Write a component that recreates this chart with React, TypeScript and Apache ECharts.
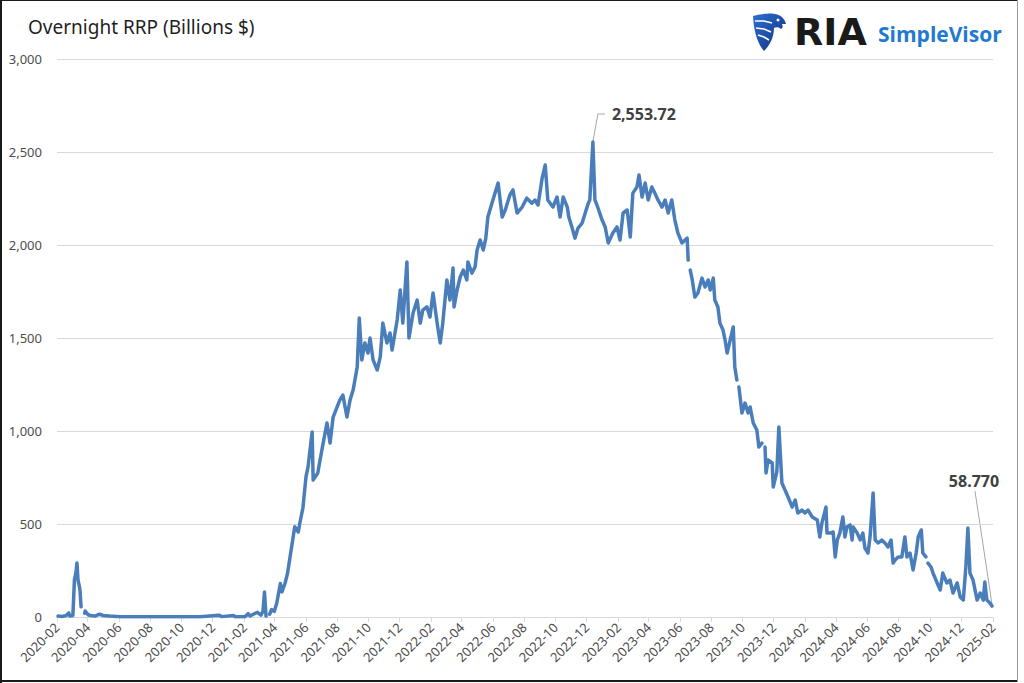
import React, { useEffect, useRef } from 'react';
import * as echarts from 'echarts';

const dates: string[] = [
  '2020-02-03','2020-02-11','2020-02-19','2020-02-24','2020-02-26','2020-03-03','2020-03-06','2020-03-09','2020-03-11','2020-03-13',
  '2020-03-16','2020-03-17','2020-03-19','2020-03-22','2020-03-26','2020-03-27','2020-04-02','2020-04-06','2020-04-15','2020-04-24',
  '2020-05-01','2020-05-14','2020-06-03','2020-07-12','2020-08-20','2020-09-28','2020-11-06','2020-12-13','2020-12-19','2021-01-11',
  '2021-01-14','2021-02-02','2021-02-08','2021-02-12','2021-02-22','2021-02-26','2021-03-05','2021-03-09','2021-03-12','2021-03-15',
  '2021-03-18','2021-03-22','2021-03-26','2021-03-31','2021-04-05','2021-04-12','2021-04-15','2021-04-21','2021-04-26','2021-05-03',
  '2021-05-07','2021-05-10','2021-05-17','2021-05-20','2021-05-26','2021-06-01','2021-06-05','2021-06-13','2021-06-15','2021-06-24',
  '2021-07-02','2021-07-12','2021-07-18','2021-07-24','2021-08-06','2021-08-12','2021-08-20','2021-08-26','2021-09-01','2021-09-09',
  '2021-09-13','2021-09-18','2021-09-24','2021-09-30','2021-10-04','2021-10-10','2021-10-18','2021-10-24','2021-10-29','2021-11-06',
  '2021-11-12','2021-11-16','2021-11-26','2021-12-02','2021-12-07','2021-12-15','2021-12-19','2021-12-27','2022-01-04','2022-01-10',
  '2022-01-15','2022-01-23','2022-01-29','2022-02-04','2022-02-12','2022-02-18','2022-02-23','2022-03-03','2022-03-09','2022-03-15',
  '2022-03-17','2022-03-23','2022-03-29','2022-04-04','2022-04-11','2022-04-13','2022-04-21','2022-04-27','2022-05-01','2022-05-07',
  '2022-05-13','2022-05-18','2022-05-22','2022-05-30','2022-06-05','2022-06-11','2022-06-19','2022-06-25','2022-07-04','2022-07-10',
  '2022-07-18','2022-07-28','2022-08-06','2022-08-16','2022-08-22','2022-08-28','2022-09-05','2022-09-11','2022-09-16','2022-09-26',
  '2022-10-04','2022-10-10','2022-10-16','2022-10-24','2022-10-27','2022-11-02','2022-11-08','2022-11-14','2022-11-22','2022-11-28',
  '2022-12-04','2022-12-07','2022-12-13','2022-12-17','2022-12-23','2022-12-31','2023-01-06','2023-01-12','2023-01-21','2023-01-29',
  '2023-02-04','2023-02-10','2023-02-18','2023-02-24','2023-03-01','2023-03-09','2023-03-13','2023-03-19','2023-03-25','2023-03-31',
  '2023-04-07','2023-04-13','2023-04-19','2023-04-27','2023-05-03','2023-05-09','2023-05-16','2023-05-22','2023-05-28','2023-06-05',
  '2023-06-11','2023-06-15','2023-06-17','2023-06-19','2023-06-21','2023-06-25','2023-06-30','2023-07-06','2023-07-14','2023-07-20',
  '2023-07-26','2023-07-30','2023-08-05','2023-08-08','2023-08-14','2023-08-18','2023-08-24','2023-08-28','2023-09-01','2023-09-07',
  '2023-09-13','2023-09-16','2023-09-20','2023-09-22','2023-09-24','2023-09-30','2023-10-06','2023-10-12','2023-10-16','2023-10-22',
  '2023-10-29','2023-11-02','2023-11-08','2023-11-10','2023-11-14','2023-11-16','2023-11-20','2023-11-28','2023-11-30','2023-12-07',
  '2023-12-11','2023-12-17','2023-12-23','2023-12-29','2024-01-06','2024-01-12','2024-01-17','2024-01-25','2024-01-31','2024-02-06',
  '2024-02-14','2024-02-24','2024-02-29','2024-03-04','2024-03-12','2024-03-14','2024-03-20','2024-03-26','2024-03-30','2024-04-03',
  '2024-04-08','2024-04-14','2024-04-18','2024-04-22','2024-04-28','2024-05-02','2024-05-04','2024-05-12','2024-05-18','2024-05-23',
  '2024-05-27','2024-06-02','2024-06-06','2024-06-12','2024-06-16','2024-06-22','2024-06-29','2024-07-05','2024-07-11','2024-07-17',
  '2024-07-21','2024-07-25','2024-07-31','2024-08-07','2024-08-13','2024-08-17','2024-08-23','2024-08-29','2024-09-04','2024-09-08',
  '2024-09-14','2024-09-17','2024-09-23','2024-09-25','2024-09-27','2024-10-03','2024-10-07','2024-10-15','2024-10-21','2024-10-26',
  '2024-11-03','2024-11-09','2024-11-15','2024-11-23','2024-11-29','2024-12-05','2024-12-10','2024-12-14','2024-12-18','2024-12-24',
  '2025-01-01','2025-01-07','2025-01-13','2025-01-16','2025-01-20','2025-01-26','2025-01-30'
];

const values: (number | null)[] = [
  5, 3, 8, 22, 5, 8, 200, 240, 290, 200,
  160, 140, 55, null, 20, 32, 12, 8, 5, 15,
  8, 5, 2, 1, 1, 1, 1, 10, 2, 8,
  1, 2, 18, 5, 20, 25, 10, 30, 134, 5,
  null, 15, 40, 30, 75, 180, 135, 180, 235, 360,
  430, 485, 457, 505, 586, 753, 806, 995, 736, 774,
  898, 1043, 935, 1075, 1166, 1193, 1075, 1166, 1220, 1344,
  1607, 1382, 1473, 1419, 1500, 1382, 1328, 1398, 1580, 1473,
  1527, 1435, 1597, 1758, 1580, 1909, 1500, 1634, 1704, 1580,
  1650, 1667, 1613, 1742, 1580, 1473, 1580, 1812, 1704, 1876,
  1667, 1758, 1828, 1865, 1812, 1909, 1849, 1882, 1973, 2027,
  1973, 2037, 2150, 2225, 2279, 2333, 2150, 2188, 2269, 2296,
  2172, 2204, 2252, 2225, 2242, 2215, 2360, 2430, 2242, 2204,
  2258, 2150, 2258, 2204, 2150, 2097, 2037, 2091, 2118, 2172,
  2225, 2242, 2553.72, 2242, 2199, 2134, 2097, 2011, 2064, 2097,
  2027, 2172, 2188, 2043, 2279, 2312, 2376, 2258, 2333, 2242,
  2312, 2279, 2242, 2204, 2242, 2172, 2242, 2134, 2064, 2011,
  2027, 2037, 1919, null, 1865, 1812, 1720, 1742, 1822, 1774,
  1812, 1758, 1822, 1704, 1667, 1580, 1543, 1489, 1419, 1489,
  1559, 1344, 1274, null, 1237, 1097, 1150, 1097, 1129, 1043,
  1005, 914, 935, null, 914, 774, 844, 828, 699, 780,
  1021, 720, 683, 645, 591, 629, 559, 575, 559, 575,
  538, 521, 430, 505, 591, 451, 451, 457, 323, 414,
  451, 538, 430, 484, 495, 414, 484, 451, 414, 451,
  371, 344, 430, 667, 414, 398, 414, 398, 376, 414,
  290, 306, 323, 323, 430, 323, 344, 253, 344, 430,
  468, 344, 323, null, 290, 269, 236, 183, 145, 236,
  183, 199, 129, 183, 108, 91, 269, 478, 236, 199,
  91, 129, 91, 188, 91, 75, 58.77
];

const xTickLabels: string[] = [
  '2020-02','2020-04','2020-06','2020-08','2020-10','2020-12',
  '2021-02','2021-04','2021-06','2021-08','2021-10','2021-12',
  '2022-02','2022-04','2022-06','2022-08','2022-10','2022-12',
  '2023-02','2023-04','2023-06','2023-08','2023-10','2023-12',
  '2024-02','2024-04','2024-06','2024-08','2024-10','2024-12',
  '2025-02'
];

const yTicks: number[] = [0, 500, 1000, 1500, 2000, 2500, 3000];

const titleText = 'Overnight RRP (Billions $)';
const peakDate = '2022-12-13';
const peakValue = 2553.72;
const peakLabel = '2,553.72';
const lastLabel = '58.770';

const eaglePath =
  'M1,3 C8,1 16,0 23,1 C29,2 33,6 34,11 L30,11 C31,13 31,15 29,16 C27,14 24,14 22,15 C22,24 18,32 12,38 C7,32 2,22 1,3 Z';

let registered = false;

function dayTs(s: string): number {
  const [y, m, d] = s.split('-').map(Number);
  return new Date(y, m - 1, d || 1).getTime();
}

function fmtMonth(v: number): string {
  const d = new Date(v);
  return `${d.getFullYear()}-${String(d.getMonth() + 1).padStart(2, '0')}`;
}

export default function App() {
  const ref = useRef<HTMLDivElement>(null);

  useEffect(() => {
    document.body.style.margin = '0';
    document.body.style.background = '#ffffff';
    if (!registered) {
      echarts.graphic.registerShape('eagle', echarts.graphic.extendPath(eaglePath, {}));
      registered = true;
    }
    const chart = echarts.init(ref.current!, null, { renderer: 'svg' });
    const tickTs = xTickLabels.map(dayTs);
    const fontFam = '"Noto Sans", "Open Sans", sans-serif';

    chart.setOption({
      animation: false,
      backgroundColor: '#ffffff',
      grid: { left: 57, right: 31, top: 59, bottom: 66, containLabel: false },
      xAxis: {
        type: 'value',
        min: tickTs[0],
        max: tickTs[tickTs.length - 1],
        scale: true,
        axisLine: { show: true, onZero: false, lineStyle: { color: '#d9d9d9', width: 1 } },
        axisTick: { show: true, customValues: tickTs, length: 5, lineStyle: { color: '#d9d9d9' } },
        splitLine: { show: false },
        axisLabel: {
          customValues: tickTs,
          rotate: 45,
          color: '#4d4d4d',
          fontSize: 13,
          fontFamily: fontFam,
          margin: 8,
          formatter: (v: number) => fmtMonth(v),
        },
      },
      yAxis: {
        type: 'value',
        min: yTicks[0],
        max: yTicks[yTicks.length - 1],
        interval: yTicks[1] - yTicks[0],
        axisLine: { show: false },
        axisTick: { show: false },
        splitLine: { show: true, lineStyle: { color: '#d9d9d9', width: 1 } },
        axisLabel: {
          color: '#4d4d4d',
          fontSize: 13,
          fontFamily: fontFam,
          margin: 15,
          formatter: (v: number) => v.toLocaleString('en-US'),
        },
      },
      series: [
        {
          type: 'line',
          data: dates.map((d, i) => [dayTs(d), values[i] === null ? '-' : values[i]]),
          showSymbol: false,
          connectNulls: false,
          lineStyle: { color: '#4a7ebb', width: 3.5, join: 'round', cap: 'round' },
          itemStyle: { color: '#4a7ebb' },
        },
      ],
      graphic: [
        { id: 'bl', type: 'line', shape: { x1: 1, y1: 0, x2: 1, y2: 683 }, style: { stroke: '#1a1a1a', lineWidth: 2 } },
        { id: 'bt', type: 'line', shape: { x1: 0, y1: 0.5, x2: 1018, y2: 0.5 }, style: { stroke: '#1a1a1a', lineWidth: 1 } },
        { id: 'bb', type: 'line', shape: { x1: 0, y1: 681, x2: 1018, y2: 681 }, style: { stroke: '#1a1a1a', lineWidth: 2 } },
        { id: 'br', type: 'line', shape: { x1: 1017.5, y1: 0, x2: 1017.5, y2: 682 }, style: { stroke: '#9a9a9a', lineWidth: 1 } },
        {
          id: 'title', type: 'text', x: 28, y: 27,
          style: { text: titleText, fill: '#1f1f1f', font: `19px ${fontFam}`, textVerticalAlign: 'middle' },
        },
        {
          id: 'eagle', type: 'eagle', x: 752, y: 13, scaleX: 1, scaleY: 1,
          style: {
            fill: new echarts.graphic.LinearGradient(0, 0, 1, 1, [
              { offset: 0, color: '#2a6fd1' },
              { offset: 1, color: '#14307a' },
            ]),
          },
        },
        { id: 'es1', type: 'polyline', shape: { points: [[3, 8], [12, 8], [20, 10]] }, x: 752, y: 13, style: { stroke: '#ffffff', lineWidth: 1.6, fill: null } },
        { id: 'es2', type: 'polyline', shape: { points: [[4, 15], [12, 16], [19, 19]] }, x: 752, y: 13, style: { stroke: '#ffffff', lineWidth: 1.6, fill: null } },
        { id: 'es3', type: 'polyline', shape: { points: [[6, 22], [12, 24], [17, 27]] }, x: 752, y: 13, style: { stroke: '#ffffff', lineWidth: 1.6, fill: null } },
        { id: 'eye', type: 'circle', shape: { cx: 778, cy: 20, r: 1.5 }, style: { fill: '#ffffff' } },
        {
          id: 'ria', type: 'text', x: 794, y: 32,
          style: { text: 'RIA', fill: '#1a1a1a', font: `bold 38px "DejaVu Sans", sans-serif`, textVerticalAlign: 'middle' },
        },
        {
          id: 'sv', type: 'text', x: 878, y: 34,
          style: { text: 'SimpleVisor', fill: '#1f7ad0', font: `bold 21px "Open Sans", sans-serif`, textVerticalAlign: 'middle' },
        },
      ],
    });

    const pk = chart.convertToPixel({ gridIndex: 0 }, [dayTs(peakDate), peakValue]) as number[];
    const lastIdx = dates.length - 1;
    const ls = chart.convertToPixel({ gridIndex: 0 }, [dayTs(dates[lastIdx]), values[lastIdx] as number]) as number[];

    chart.setOption({
      graphic: [
        {
          id: 'pkLine', type: 'polyline',
          shape: { points: [[pk[0], pk[1]], [pk[0] + 5, pk[1] - 28], [pk[0] + 12, pk[1] - 28]] },
          style: { stroke: '#a6a6a6', lineWidth: 1, fill: null },
        },
        {
          id: 'pkText', type: 'text', x: pk[0] + 19, y: pk[1] - 28,
          style: { text: peakLabel, fill: '#404040', font: `bold 16px ${fontFam}`, textVerticalAlign: 'middle' },
        },
        {
          id: 'lsLine', type: 'line',
          shape: { x1: ls[0] - 17, y1: ls[1] - 115, x2: ls[0], y2: ls[1] - 2 },
          style: { stroke: '#a6a6a6', lineWidth: 1 },
        },
        {
          id: 'lsText', type: 'text', x: ls[0] - 18, y: ls[1] - 125,
          style: { text: lastLabel, fill: '#404040', font: `bold 16px ${fontFam}`, textAlign: 'center', textVerticalAlign: 'middle' },
        },
      ],
    });

    return () => chart.dispose();
  }, []);

  return <div ref={ref} style={{ width: 1024, height: 683 }} />;
}
